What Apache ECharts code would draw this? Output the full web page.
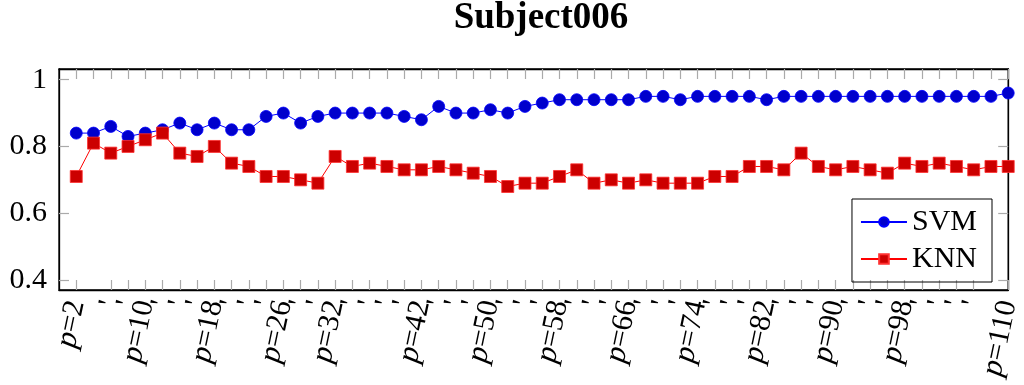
<!DOCTYPE html>
<html>
<head>
<meta charset="utf-8">
<script src="https://cdn.jsdelivr.net/npm/echarts@6/dist/echarts.min.js"></script>
<style>
  html, body { margin: 0; padding: 0; background: #fff; }
  #chart { width: 1024px; height: 385px; }
</style>
</head>
<body>
<div id="chart"></div>
<script>
// p values on the x axis
var pValues = [2, 4, 6, 8, 10, 12, 14, 16, 18, 20, 22, 24, 26, 28, 30, 32, 34, 36, 38, 40,
    42, 44, 46, 48, 50, 52, 54, 56, 58, 60, 62, 64, 66, 68, 70, 72, 74, 76, 78, 80,
    82, 84, 86, 88, 90, 92, 94, 96, 98, 100, 102, 104, 106, 108, 110];
// which p get a written label, the others only show a '
var labeledP = [2, 10, 18, 26, 32, 42, 50, 58, 66, 74, 82, 90, 98, 110];

var svm = [0.84, 0.84, 0.86, 0.83, 0.84, 0.85, 0.87, 0.85, 0.87, 0.85, 0.85, 0.89, 0.90, 0.87, 0.89, 0.90, 0.90, 0.90, 0.90,
    0.89, 0.88, 0.92, 0.90, 0.90, 0.91, 0.90, 0.92, 0.93, 0.94, 0.94, 0.94, 0.94, 0.94, 0.95, 0.95, 0.94, 0.95,
    0.95, 0.95, 0.95, 0.94, 0.95, 0.95, 0.95, 0.95, 0.95, 0.95, 0.95, 0.95, 0.95, 0.95, 0.95, 0.95, 0.95, 0.96];
var knn = [0.71, 0.81, 0.78, 0.80, 0.82, 0.84, 0.78, 0.77, 0.80, 0.75, 0.74, 0.71, 0.71, 0.70, 0.69, 0.77, 0.74, 0.75, 0.74,
    0.73, 0.73, 0.74, 0.73, 0.72, 0.71, 0.68, 0.69, 0.69, 0.71, 0.73, 0.69, 0.70, 0.69, 0.70, 0.69, 0.69, 0.69,
    0.71, 0.71, 0.74, 0.74, 0.73, 0.78, 0.74, 0.73, 0.74, 0.73, 0.72, 0.75, 0.74, 0.75, 0.74, 0.73, 0.74, 0.74];

var yTicks = [0.4, 0.6, 0.8, 1];

var serif = '"Liberation Serif", "DejaVu Serif", serif';

function pairs(arr) {  // [index, value]
    var out = [];
    for (var i = 0; i < arr.length; i++) out.push([i, arr[i]]);
    return out;
}
var xIdx = [];
for (var i = 0; i < pValues.length; i++) xIdx.push(i);

var tickStyle = { show: true, inside: true, length: 10, lineStyle: { color: '#aaa', width: 1.2 } };
var txt = { fontFamily: serif, fontSize: 30, color: '#000' };

var chart = echarts.init(document.getElementById('chart'));
var option = {
    animation: false,
    backgroundColor: '#fff',
    title: {
        text: 'Subject006',
        left: 541,
        textAlign: 'center',
        top: 0,
        padding: 0,
        textStyle: { fontFamily: serif, fontWeight: 'bold', fontSize: 37, color: '#000' }
    },
    legend: {
        orient: 'vertical',
        right: 32,
        top: 199,
        borderColor: '#000',
        borderWidth: 1,
        padding: [8, 15, 8, 8],
        itemGap: 7,
        itemWidth: 46,
        itemHeight: 12,
        itemTextGap: 7,
        textStyle: { fontFamily: serif, fontSize: 30, color: '#000' },
        data: ['SVM', 'KNN']
    },
    grid: { left: 59, right: 3, top: 69, bottom: 95, show: true, borderColor: '#000', borderWidth: 1.3 },
    xAxis: [{
        type: 'value',
        min: -1,
        max: 54,
        position: 'bottom',
        splitLine: { show: false },
        axisLine: { show: true, onZero: false, lineStyle: { color: '#000', width: 1.3 } },
        axisTick: Object.assign({ customValues: xIdx }, tickStyle),
        axisLabel: {
            customValues: xIdx,
            rotate: 78,
            margin: 11,
            hideOverlap: false,
            showMinLabel: true,
            showMaxLabel: true,
            fontFamily: serif,
            fontSize: 30,
            color: '#000',
            formatter: function (v) {
                var p = pValues[v];
                if (labeledP.indexOf(p) < 0) return "{n|'}";
                return '{i|p}{n|=' + p + '}';
            },
            rich: {
                i: { fontFamily: serif, fontStyle: 'italic', fontSize: 31, color: '#000' },
                n: txt
            }
        }
    }, {
        type: 'value',
        min: -1,
        max: 54,
        position: 'top',
        splitLine: { show: false },
        axisLine: { show: true, onZero: false, lineStyle: { color: '#000', width: 1.3 } },
        axisTick: Object.assign({ customValues: xIdx }, tickStyle),
        axisLabel: { show: false }
    }],
    yAxis: [{
        type: 'value',
        min: 0.37,
        max: 1.032,
        position: 'left',
        splitLine: { show: false },
        axisLine: { show: true, onZero: false, lineStyle: { color: '#000', width: 1.3 } },
        axisTick: Object.assign({ customValues: yTicks }, tickStyle),
        axisLabel: {
            customValues: yTicks,
            margin: 12,
            showMinLabel: true,
            showMaxLabel: true,
            fontFamily: serif,
            fontSize: 30,
            color: '#000',
            formatter: function (v) { return '{n|' + v + '}'; },
            rich: { n: txt }
        }
    }, {
        type: 'value',
        min: 0.37,
        max: 1.032,
        position: 'right',
        splitLine: { show: false },
        axisLine: { show: true, onZero: false, lineStyle: { color: '#000', width: 1.3 } },
        axisTick: Object.assign({ customValues: yTicks }, tickStyle),
        axisLabel: { show: false }
    }],
    series: [{
        name: 'SVM',
        type: 'line',
        data: pairs(svm),
        symbol: 'circle',
        symbolSize: 12,
        clip: false,
        lineStyle: { color: '#0000ff', width: 1 },
        itemStyle: { color: '#0000cc', borderColor: '#0000ff', borderWidth: 0.8 }
    }, {
        name: 'KNN',
        type: 'line',
        data: pairs(knn),
        symbol: 'rect',
        symbolSize: 12,
        clip: false,
        lineStyle: { color: '#ff0000', width: 1 },
        itemStyle: { color: '#cc0000', borderColor: '#ff3030', borderWidth: 0.8 }
    }]
};
chart.setOption(option);
</script>
</body>
</html>
